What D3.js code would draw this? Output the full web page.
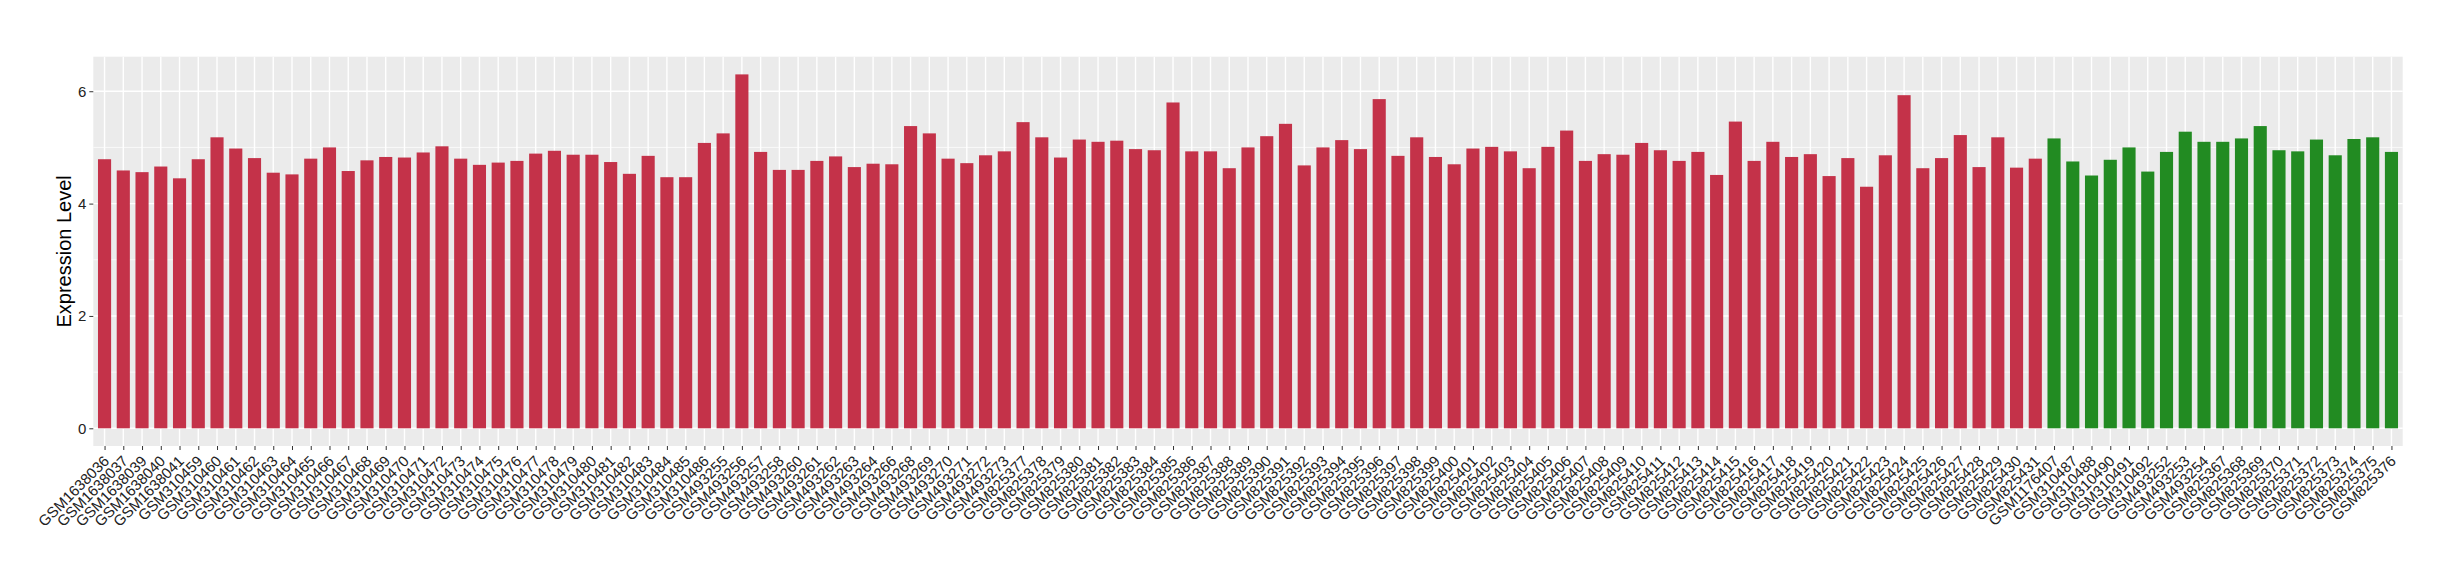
<!DOCTYPE html>
<html>
<head>
<meta charset="utf-8">
<script src="https://d3js.org/d3.v7.min.js"></script>
<style>
  body { margin: 0; background: #fff; }
  text { font-family: "Liberation Sans", Arial, Helvetica, sans-serif; }
</style>
</head>
<body>
<svg width="2460" height="580"></svg>
<script>
// red group
var redSamples = ["GSM1638036","GSM1638037","GSM1638039","GSM1638040","GSM1638041",
  "GSM310459","GSM310460","GSM310461","GSM310462","GSM310463","GSM310464","GSM310465","GSM310466",
  "GSM310467","GSM310468","GSM310469","GSM310470","GSM310471","GSM310472","GSM310473","GSM310474",
  "GSM310475","GSM310476","GSM310477","GSM310478","GSM310479","GSM310480","GSM310481","GSM310482",
  "GSM310483","GSM310484","GSM310485","GSM310486",
  "GSM493255","GSM493256","GSM493257","GSM493258","GSM493260","GSM493261","GSM493262","GSM493263",
  "GSM493264","GSM493266","GSM493268","GSM493269","GSM493270","GSM493271","GSM493272","GSM493273",
  "GSM825377","GSM825378","GSM825379","GSM825380","GSM825381","GSM825382","GSM825383","GSM825384",
  "GSM825385","GSM825386","GSM825387","GSM825388","GSM825389","GSM825390","GSM825391","GSM825392",
  "GSM825393","GSM825394","GSM825395","GSM825396","GSM825397","GSM825398","GSM825399","GSM825400",
  "GSM825401","GSM825402","GSM825403","GSM825404","GSM825405","GSM825406","GSM825407","GSM825408",
  "GSM825409","GSM825410","GSM825411","GSM825412","GSM825413","GSM825414","GSM825415","GSM825416",
  "GSM825417","GSM825418","GSM825419","GSM825420","GSM825421","GSM825422","GSM825423","GSM825424",
  "GSM825425","GSM825426","GSM825427","GSM825428","GSM825429","GSM825430","GSM825431"];
var redValues = [4.79,4.59,4.56,4.66,4.45,
  4.79,5.18,4.98,4.81,4.55,4.52,4.80,5.00,
  4.58,4.77,4.83,4.82,4.91,5.02,4.80,4.69,
  4.73,4.76,4.89,4.94,4.87,4.87,4.74,4.53,
  4.85,4.47,4.47,5.08,
  5.25,6.30,4.92,4.60,4.60,4.76,4.84,4.65,
  4.71,4.70,5.38,5.25,4.80,4.72,4.86,4.93,
  5.45,5.18,4.82,5.14,5.10,5.12,4.97,4.95,
  5.80,4.93,4.93,4.63,5.00,5.20,5.42,4.68,
  5.00,5.13,4.97,5.86,4.85,5.18,4.83,4.70,
  4.98,5.01,4.93,4.63,5.01,5.30,4.76,4.88,
  4.87,5.08,4.95,4.76,4.92,4.51,5.46,4.76,
  5.10,4.83,4.88,4.49,4.81,4.30,4.86,5.93,
  4.63,4.81,5.22,4.65,5.18,4.64,4.80];

// green group
var greenSamples = ["GSM1176407","GSM310487","GSM310488","GSM310490","GSM310491","GSM310492",
  "GSM493252","GSM493253","GSM493254","GSM825367","GSM825368","GSM825369","GSM825370",
  "GSM825371","GSM825372","GSM825373","GSM825374","GSM825375","GSM825376"];
var greenValues = [5.16,4.75,4.50,4.78,5.00,4.57,
  4.92,5.28,5.10,5.10,5.16,5.38,4.95,
  4.93,5.14,4.86,5.15,5.18,4.92];

var yTicks = [0, 2, 4, 6];
var yMinor = [1, 3, 5];

var redColor = "#C43249", greenColor = "#228B22";

var rows = redSamples.map(function(s, i) { return {name: s, value: redValues[i], color: redColor}; })
  .concat(greenSamples.map(function(s, i) { return {name: s, value: greenValues[i], color: greenColor}; }));

var pLeft = 93.3, pRight = 2402.7, pTop = 56.7, pBottom = 446;
var svg = d3.select("svg");

var x = d3.scalePoint()
  .domain(rows.map(function(d) { return d.name; }))
  .range([pLeft, pRight])
  .padding(0.6);
var barW = x.step() * 0.7;

var maxV = d3.max(rows, function(d) { return d.value; });
var pad = maxV * 0.05;
var y = d3.scaleLinear().domain([-pad, maxV + pad]).range([pBottom, pTop]);

// panel
svg.append("rect")
  .attr("x", pLeft).attr("y", pTop)
  .attr("width", pRight - pLeft).attr("height", pBottom - pTop)
  .attr("fill", "#EBEBEB");

var grid = svg.append("g");
grid.selectAll(".minor").data(yMinor).enter().append("line")
  .attr("x1", pLeft).attr("x2", pRight)
  .attr("y1", function(d) { return y(d); }).attr("y2", function(d) { return y(d); })
  .attr("stroke", "#fff").attr("stroke-width", 0.7);
grid.selectAll(".major").data(yTicks).enter().append("line")
  .attr("x1", pLeft).attr("x2", pRight)
  .attr("y1", function(d) { return y(d); }).attr("y2", function(d) { return y(d); })
  .attr("stroke", "#fff").attr("stroke-width", 1.4);
grid.selectAll(".vx").data(rows).enter().append("line")
  .attr("x1", function(d) { return x(d.name); }).attr("x2", function(d) { return x(d.name); })
  .attr("y1", pTop).attr("y2", pBottom)
  .attr("stroke", "#fff").attr("stroke-width", 1.4);

// bars
svg.append("g").selectAll("rect").data(rows).enter().append("rect")
  .attr("x", function(d) { return x(d.name) - barW / 2; })
  .attr("width", barW)
  .attr("y", function(d) { return y(d.value); })
  .attr("height", function(d) { return y(0) - y(d.value); })
  .attr("fill", function(d) { return d.color; });

// y axis
var yAxis = svg.append("g")
  .attr("transform", "translate(" + pLeft + ",0)")
  .call(d3.axisLeft(y).tickValues(yTicks).tickFormat(d3.format("d")).tickSize(4).tickPadding(3));
yAxis.select(".domain").remove();
yAxis.selectAll("line").attr("stroke", "#333");
yAxis.selectAll("text").attr("font-size", 15).attr("fill", "#222")
  .style("font-family", "Liberation Sans, Arial, sans-serif");

// x axis
var xAxis = svg.append("g")
  .attr("transform", "translate(0," + pBottom + ")")
  .call(d3.axisBottom(x).tickSize(4).tickPadding(3));
xAxis.select(".domain").remove();
xAxis.selectAll("line").attr("stroke", "#333");
xAxis.selectAll("text")
  .attr("font-size", 15).attr("fill", "#222")
  .style("font-family", "Liberation Sans, Arial, sans-serif")
  .attr("text-anchor", "end")
  .attr("dy", null).attr("y", null)
  .attr("transform", "translate(5,16) rotate(-45)");

// y title
svg.append("text")
  .attr("transform", "translate(71," + ((pTop + pBottom) / 2) + ") rotate(-90)")
  .attr("text-anchor", "middle")
  .attr("font-size", 20)
  .attr("fill", "#000")
  .text("Expression Level");
</script>
</body>
</html>
